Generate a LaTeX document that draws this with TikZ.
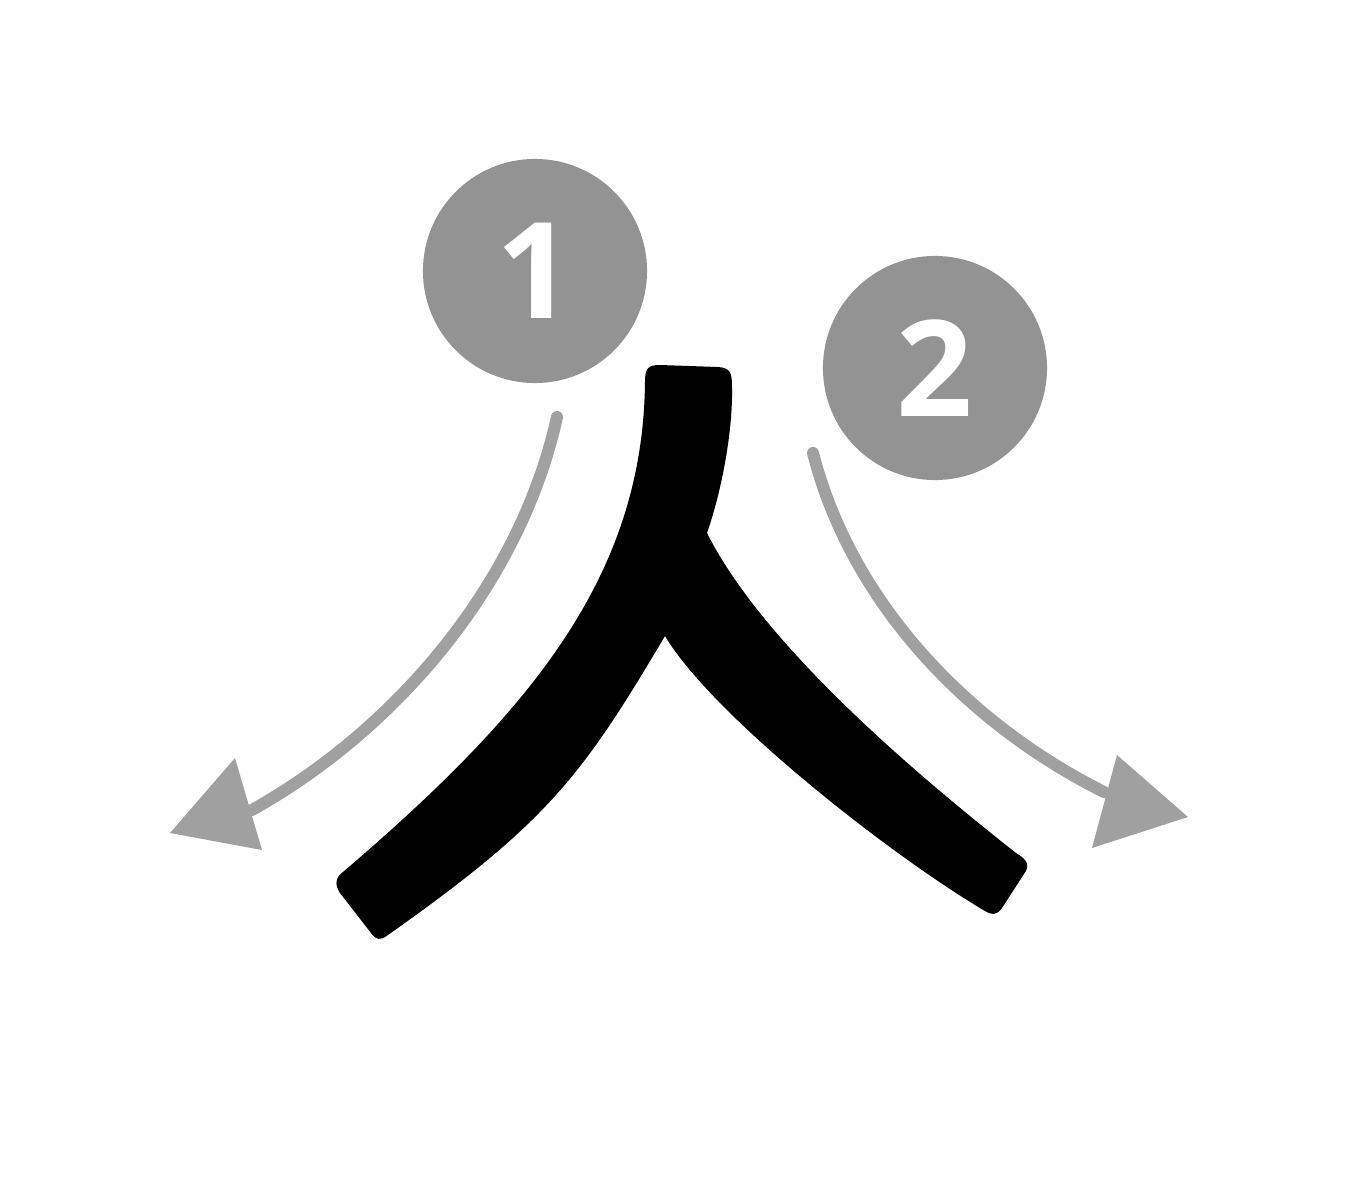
\documentclass[tikz,border=0pt]{standalone}
\usepackage{fontspec}
\setmainfont{Open Sans}
\definecolor{circgray}{HTML}{939393}
\definecolor{arrgray}{HTML}{A0A0A0}
\begin{document}
\begin{tikzpicture}[x=0.01cm,y=-0.01cm,
  numcircle/.style={circle,fill=circgray,minimum size=2.24cm,inner sep=0pt,text=white,font=\fontsize{38}{40}\selectfont\bfseries},
  shaft/.style={draw=arrgray,line width=0.12cm,line cap=round},
  arrowhead/.style={fill=arrgray}]
\useasboundingbox (0,0) rectangle (1359,1200);
% character strokes
\fill[black]
  (343,872)
  .. controls (530,712) and (643,577) .. (645,382)
  .. controls (645,368) and (648,365) .. (660,365)
  -- (718,367)
  .. controls (730,368) and (732,372) .. (732,387)
  .. controls (733,430) and (722,490) .. (707,533)
  .. controls (767,653) and (940,793) .. (1016,853)
  .. controls (1028,860) and (1030,866) .. (1024,874)
  -- (1002,908)
  .. controls (996,916) and (992,915) .. (985,911)
  .. controls (890,855) and (712,715) .. (665,636)
  .. controls (582,776) and (548,822) .. (388,935)
  .. controls (380,941) and (376,940) .. (371,933)
  -- (340,893)
  .. controls (334,884) and (336,877) .. (343,872) -- cycle;
% numbered circles
\node[numcircle] (c1) at (535,271) {1};
\node[numcircle] (c2) at (935,368) {2};
% arrows
\coordinate (a1s) at (557,417);
\coordinate (a1e) at (252,810);
\coordinate (a2s) at (813,453);
\coordinate (a2e) at (1104,792);
\draw[shaft] (a1s) .. controls (520,585) and (395,730) .. (a1e);
\fill[arrowhead] (170,833) -- (235,758) -- (262,850) -- cycle;
\draw[shaft] (a2s) .. controls (852,605) and (970,725) .. (a2e);
\fill[arrowhead] (1188,817) -- (1117,755) -- (1092,848) -- cycle;
\end{tikzpicture}
\end{document}
